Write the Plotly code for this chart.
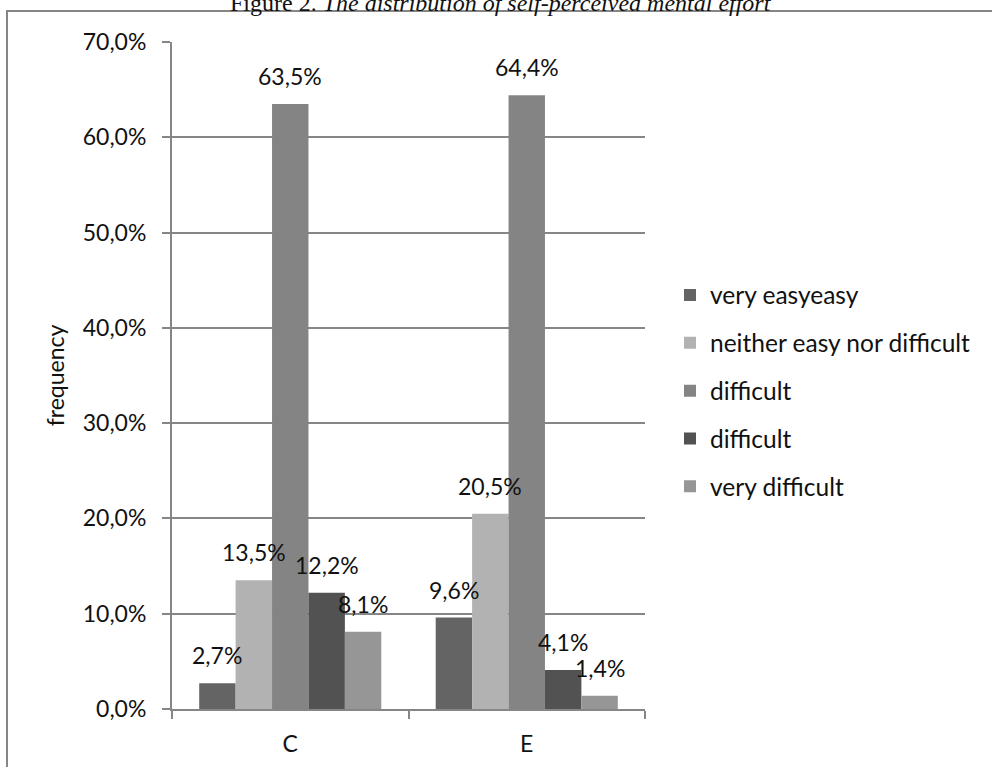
import plotly.graph_objects as go

# Survey groups and response categories
groups = ["C", "E"]
series_names = [
    "very easyeasy",
    "neither easy nor difficult",
    "difficult",
    "difficult",
    "very difficult",
]
# Share of respondents per response (percent)
values = [
    [2.7, 9.6],
    [13.5, 20.5],
    [63.5, 64.4],
    [12.2, 4.1],
    [8.1, 1.4],
]
bar_colors = ["#646464", "#b2b2b2", "#848484", "#525252", "#969696"]
y_ticks = [0, 10, 20, 30, 40, 50, 60, 70]
y_tick_labels = ["0,0%", "10,0%", "20,0%", "30,0%", "40,0%", "50,0%", "60,0%", "70,0%"]

W, H = 992, 767
L, R, T, B = 172, 347, 42, 58
pw, ph = W - L - R, H - T - B

FONT = "Lato"
FS = 23
GRID = "#868686"
BARGAP = 0.23

fig = go.Figure()
for i, (name, vals, col) in enumerate(zip(series_names, values, bar_colors)):
    fig.add_trace(go.Bar(
        x=groups,
        y=vals,
        name=name,
        legendgroup=f"g{i}",
        marker=dict(color=col, line=dict(width=0)),
    ))

# value labels above each bar, centred on the bar within its group
n_series = len(series_names)
cat_px = pw / len(groups)
bar_px = cat_px * (1 - BARGAP) / n_series
annotations = []
for i, vals in enumerate(values):
    for g, v in zip(groups, vals):
        annotations.append(dict(
            x=g, y=v, xref="x", yref="y",
            text=f"{v:.1f}%".replace(".", ","),
            showarrow=False, xanchor="center", yanchor="bottom",
            xshift=(i - (n_series - 1) / 2) * bar_px, yshift=12,
            font=dict(family=FONT, size=FS, color="#111111"),
        ))

def px_x(px):
    return (px - L) / pw

def px_y(py):
    return (H - B - py) / ph

annotations.append(dict(
    text="Figure 2. <i>The distribution of self-perceived mental effort</i>",
    xref="paper", yref="paper", x=px_x(501), y=px_y(3),
    xanchor="center", yanchor="middle", showarrow=False,
    font=dict(family="Liberation Serif", size=24, color="#111111"),
))

fig.update_layout(
    width=W, height=H,
    margin=dict(l=L, r=R, t=T, b=B, autoexpand=False),
    paper_bgcolor="white", plot_bgcolor="white",
    barmode="group", bargap=BARGAP, bargroupgap=0,
    separators=",.",
    font=dict(family=FONT, size=FS, color="#111111"),
    showlegend=True,
    legend=dict(
        x=px_x(670), y=px_y(391), xanchor="left", yanchor="middle",
        font=dict(family=FONT, size=24.5, color="#111111"),
        tracegroupgap=13, traceorder="grouped",
        itemwidth=30, bgcolor="rgba(0,0,0,0)",
    ),
    xaxis=dict(
        type="category", showgrid=False,
        showline=True, linecolor=GRID, linewidth=2,
        ticks="outside", tickson="boundaries", ticklen=8,
        tickcolor=GRID, tickwidth=2, ticklabelstandoff=13,
        tickfont=dict(family=FONT, size=FS, color="#111111"),
        zeroline=False,
    ),
    yaxis=dict(
        range=[0, 70], tickvals=y_ticks, ticktext=y_tick_labels,
        showgrid=True, gridcolor=GRID, gridwidth=2,
        showline=True, linecolor=GRID, linewidth=2,
        ticks="outside", ticklen=8, tickcolor=GRID, tickwidth=2,
        ticklabelstandoff=11,
        tickfont=dict(family=FONT, size=FS, color="#111111"),
        title=dict(text="frequency", standoff=12,
                   font=dict(family=FONT, size=FS, color="#111111")),
        zeroline=False,
    ),
    shapes=[
        dict(type="rect", xref="paper", yref="paper",
             x0=px_x(7), x1=px_x(1100), y0=px_y(900), y1=px_y(11),
             line=dict(color=GRID, width=2), fillcolor="rgba(0,0,0,0)",
             layer="below"),
    ],
    annotations=annotations,
)

fig.write_html("out.html")
